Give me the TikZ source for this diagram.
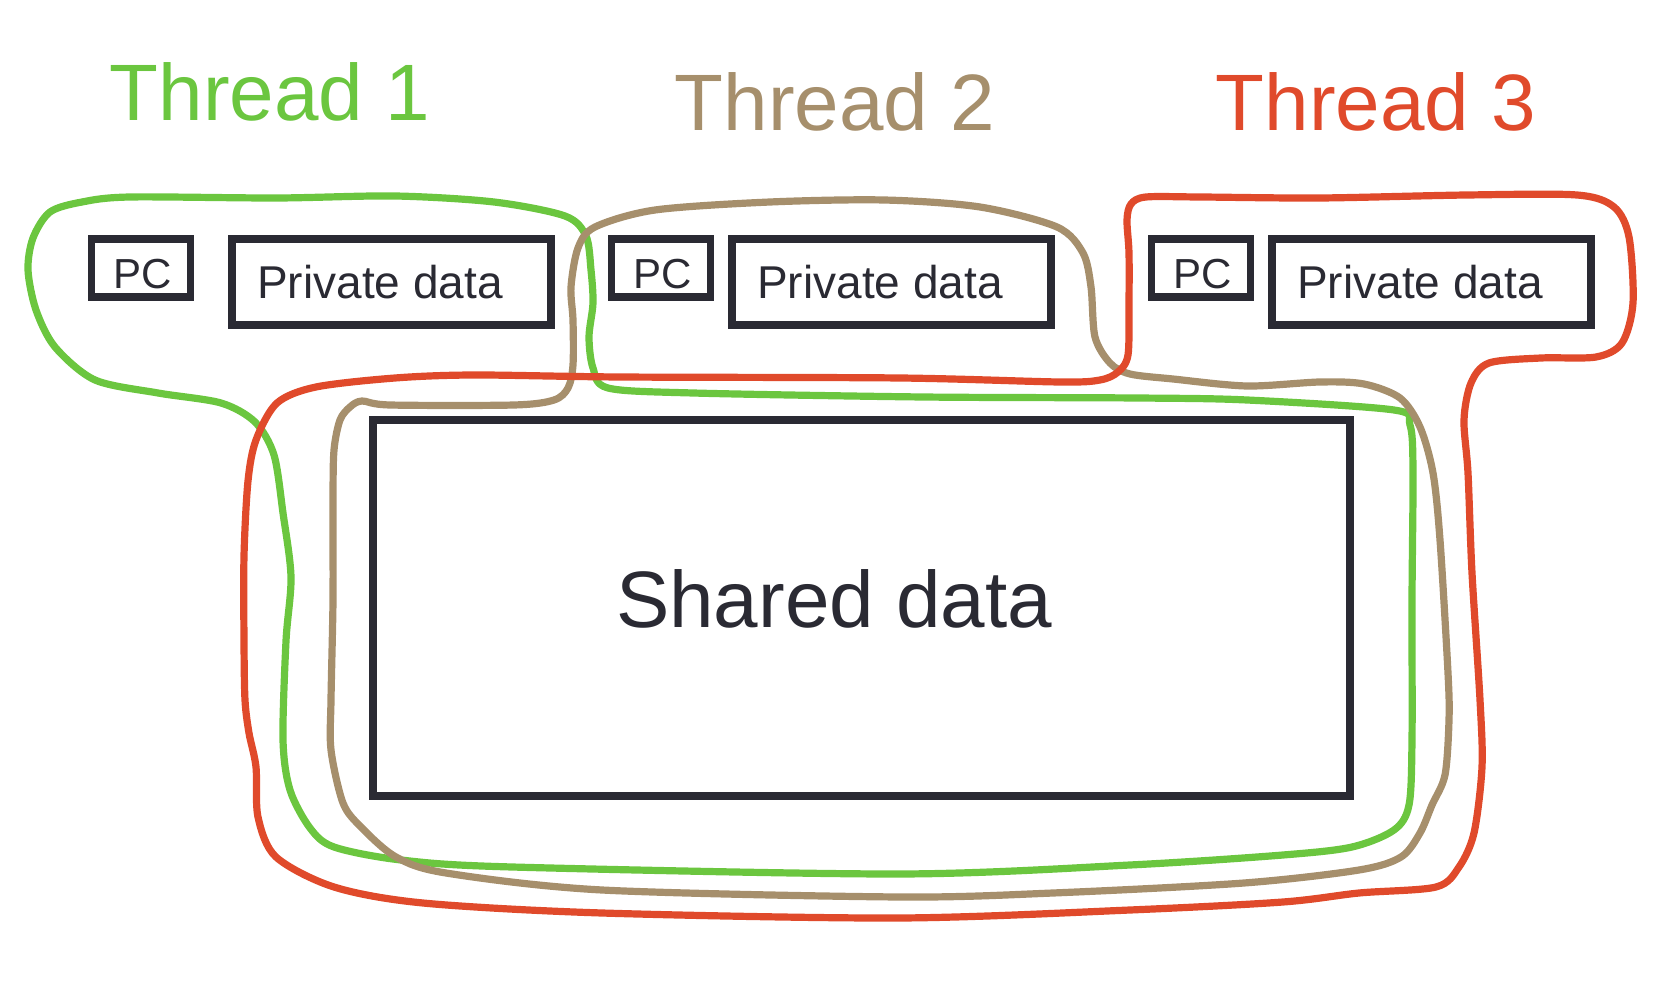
\documentclass[tikz,border=0pt]{standalone}
\usepackage{fontspec}
\setmainfont{Liberation Sans}
\usetikzlibrary{positioning}
\definecolor{tgreen}{HTML}{6BC63F}
\definecolor{ttan}{HTML}{A68F6C}
\definecolor{tred}{HTML}{E04A2B}
\definecolor{ink}{HTML}{2A2A33}
\tikzstyle{pc_box} = [rectangle, draw=ink, line width=3.8pt, fill=white, minimum width=49.5pt, minimum height=29pt, inner sep=0pt, text=ink, font=\fontsize{21}{25}\selectfont]
\tikzstyle{pc_text} = [text=ink, inner sep=0pt, xshift=1pt, yshift=-3pt, font=\fontsize{21}{25}\selectfont]
\tikzstyle{data_box} = [rectangle, draw=ink, line width=4pt, fill=white, minimum width=159.5pt, minimum height=43pt, inner sep=0pt]
\tikzstyle{data_text} = [text=ink, inner sep=0pt, xshift=-5.5pt, font=\fontsize{23}{28}\selectfont]
\tikzstyle{shared_box} = [rectangle, draw=ink, line width=4pt, fill=white, minimum width=488.5pt, minimum height=187.5pt, inner sep=0pt]
\tikzstyle{shared_text} = [text=ink, inner sep=0pt, xshift=-13.5pt, yshift=4.5pt, font=\fontsize{40}{48}\selectfont]
\tikzstyle{thread_title} = [anchor=base, inner sep=0pt, font=\fontsize{40}{48}\selectfont]
\tikzstyle{thread_line} = [line width=3.6pt, line join=round]

\begin{document}
\begin{tikzpicture}[x=0.5pt, y=-0.5pt]
\useasboundingbox (0,0) rectangle (1676,988);
% thread 1
\draw[thread_line, draw=tgreen] plot[smooth cycle, tension=0.5] coordinates {
 (130,197) (277,198) (395,196) (494,202) (565,216) (586,236) (591,270) (593,303)
 (589,337) (593,368) (608,388) (693,393) (923,397) (1137,398) (1247,400) (1394,410)
 (1410,425) (1413,470) (1412,600) (1412,740) (1409,805) (1394,830) (1352,847) (1283,855)
 (1130,865) (900,874) (512,867) (401,860) (334,847) (310,828) (290,790) (283,740)
 (286,641) (291,577) (283,513) (274,455) (255,422) (221,403) (158,393) (95,380)
 (55,347) (36,310) (28,270) (33,238) (50,212) (82,202)};
% thread 2
\draw[thread_line, draw=ttan] plot[smooth cycle, tension=0.5] coordinates {
 (595,227) (655,210) (770,202) (884,200) (980,207) (1057,227) (1083,253) (1091,287)
 (1095,337) (1110,363) (1130,374) (1173,379) (1247,386) (1320,382) (1364,384) (1400,398)
 (1420,427) (1433,473) (1440,540) (1448,673) (1449,720) (1445,775) (1432,805) (1420,833)
 (1401,857) (1359,870) (1244,883) (1053,893) (900,897) (602,890) (446,873) (396,857)
 (361,827) (343,803) (331,750) (331,700) (333,600) (333,500) (334,450) (340,420)
 (350,407) (362,401) (390,405) (514,405) (554,400) (568,388) (573,365) (573,320)
 (571,287) (578,248)};
% thread 3
\draw[thread_line, draw=tred] plot[smooth cycle, tension=0.5] coordinates {
 (1146,197) (1200,197) (1320,198) (1467,195) (1577,195) (1614,207) (1629,237) (1633,303)
 (1622,343) (1596,357) (1541,358) (1489,363) (1471,383) (1464,420) (1468,473) (1472,573)
 (1480,700) (1482,767) (1474,833) (1459,867) (1436,887) (1359,893) (1283,902) (1130,910)
 (900,918) (602,913) (423,903) (334,887) (276,857) (258,817) (256,767) (249,733)
 (245,700) (244,641) (244,556) (248,481) (256,440) (277,403) (316,387) (395,378)
 (474,375) (620,377) (900,378) (1060,382) (1100,380) (1118,372) (1128,355) (1129,303)
 (1129,253) (1127,220) (1131,204)};

\node (shared) [shared_box, label={[shared_text]center:Shared data}] at (861,608) {};

\foreach \i/\xt/\yt/\xp/\xd/\col in {1/270/121/141/391/tgreen, 2/835/131/661/891/ttan, 3/1376/131/1201/1431/tred}
{
   \node (title\i) [thread_title, text=\col] at (\xt,\yt) {Thread \i};
   \node (pc\i) [pc_box, label={[pc_text]center:PC}] at (\xp,268) {};
   \node (pd\i) [data_box, label={[data_text]center:Private data}] at (\xd,282) {};
}
\end{tikzpicture}
\end{document}
